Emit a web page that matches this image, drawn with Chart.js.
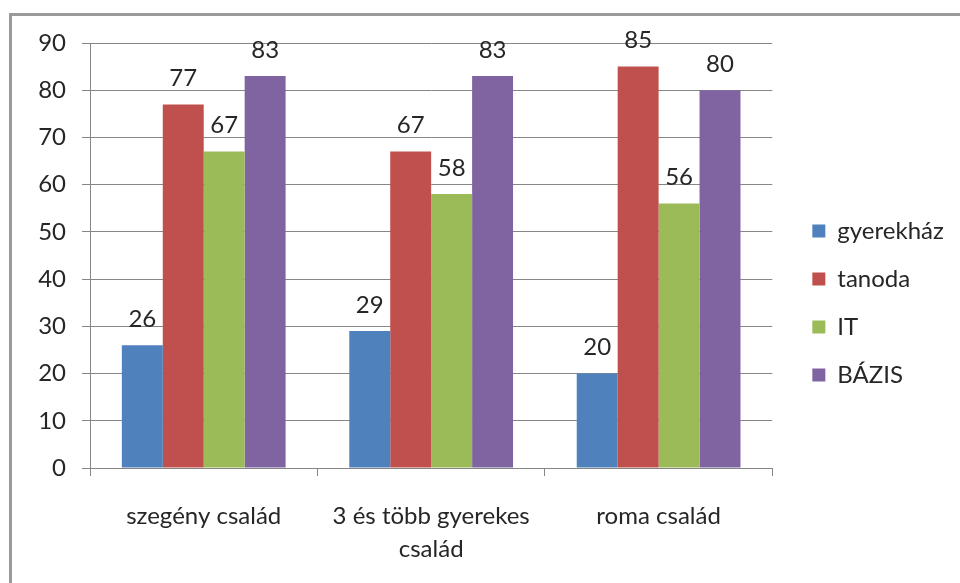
<!DOCTYPE html>
<html>
<head>
<meta charset="utf-8">
<script src="https://cdn.jsdelivr.net/npm/chart.js@4.4.0/dist/chart.umd.min.js"></script>
<style>
    html, body { margin: 0; padding: 0; background: #fff; }
    #frame {
        position: absolute; left: 9px; top: 13px; width: 980px; height: 600px;
        border-left: 3px solid #9a9a9a; border-top: 3px solid #9a9a9a;
    }
    #wrap { position: absolute; left: 0; top: 0; width: 960px; height: 583px; }
</style>
</head>
<body>
<div id="frame"></div>
<div id="wrap"><canvas id="chart"></canvas></div>
<script>
// categories (multi-line labels as in the original)
const categories = [['szegény család'], ['3 és több gyerekes', 'család'], ['roma család']];
const seriesNames = ['gyerekház', 'tanoda', 'IT', 'BÁZIS'];
const gyerekhaz = [26, 29, 20];
const tanoda = [77, 67, 85];
const itValues = [67, 58, 56];
const bazis = [83, 83, 80];
const colors = ['#4F81BD', '#C0504D', '#9BBB59', '#8064A2'];

const textColor = '#262626';
const lineColor = '#868686';
Chart.defaults.font.family = 'Lato';

// value labels above the bars
const barLabels = {
    id: 'barLabels',
    afterDatasetsDraw(chart) {
        const ctx = chart.ctx;
        ctx.save();
        ctx.font = '24px Lato';
        ctx.fillStyle = textColor;
        ctx.textAlign = 'center';
        ctx.textBaseline = 'middle';
        chart.data.datasets.forEach(function(ds, i) {
            chart.getDatasetMeta(i).data.forEach(function(bar, j) {
                ctx.fillText(ds.data[j], bar.x, bar.y - 26);
            });
        });
        ctx.restore();
    }
};

const allSeries = [gyerekhaz, tanoda, itValues, bazis];

new Chart(document.getElementById('chart'), {
    type: 'bar',
    data: {
        labels: categories,
        datasets: allSeries.map(function(values, i) {
            return {
                label: seriesNames[i],
                data: values,
                backgroundColor: colors[i],
                categoryPercentage: 0.72,
                barPercentage: 1.0
            };
        })
    },
    options: {
        responsive: true,
        maintainAspectRatio: false,
        animation: false,
        layout: { padding: { left: 0, top: 43, right: 14, bottom: 20 } },
        plugins: {
            tooltip: { enabled: false },
            legend: {
                position: 'right',
                align: 'center',
                labels: {
                    boxWidth: 13,
                    boxHeight: 13,
                    padding: 24,
                    color: textColor,
                    font: { size: 24 }
                }
            }
        },
        scales: {
            x: {
                grid: { drawOnChartArea: false, color: lineColor, tickLength: 8 },
                border: { color: lineColor },
                ticks: {
                    color: textColor,
                    padding: 24,
                    maxRotation: 0,
                    font: { size: 24, lineHeight: 1.375 }
                },
                afterFit: function(scale) { scale.height = 95; }
            },
            y: {
                min: 0,
                max: 90,
                grid: { color: lineColor, tickLength: 8 },
                border: { color: lineColor },
                ticks: {
                    stepSize: 10,
                    color: textColor,
                    padding: 16,
                    font: { size: 24 }
                },
                afterFit: function(scale) { scale.width = 90; }
            },
            // empty spacer between the plot and the legend
            gap: {
                type: 'linear',
                position: 'right',
                grid: { display: false, drawTicks: false },
                border: { display: false },
                ticks: { display: false },
                afterFit: function(scale) { scale.width = 16; }
            }
        }
    },
    plugins: [barLabels]
});
</script>
</body>
</html>
